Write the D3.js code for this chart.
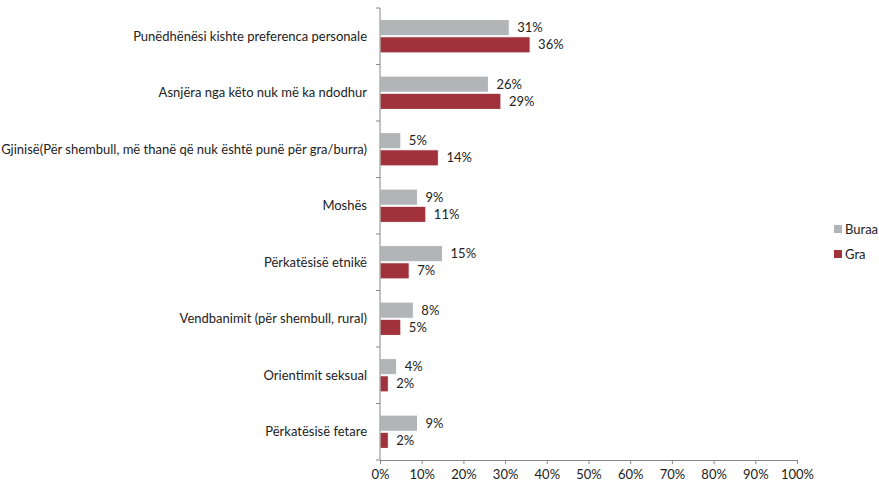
<!DOCTYPE html>
<html>
<head>
<meta charset="utf-8">
<script src="https://cdn.jsdelivr.net/npm/d3@7"></script>
<style>
  body { margin: 0; background: #fff; }
  text { font-family: Lato, "Open Sans", sans-serif; fill: #222; }
</style>
</head>
<body>
<svg id="chart" width="879" height="486"></svg>
<script>
// Reasons for unequal treatment, by gender
const categories = [
  "Punëdhënësi kishte preferenca personale",
  "Asnjëra nga këto nuk më ka ndodhur",
  "Gjinisë(Për shembull, më thanë që nuk është punë për gra/burra)",
  "Moshës",
  "Përkatësisë etnikë",
  "Vendbanimit (për shembull, rural)",
  "Orientimit seksual",
  "Përkatësisë fetare"
];
const seriesNames = ["Buraa", "Gra"];
const buraa = [31, 26, 5, 9, 15, 8, 4, 9];
const gra = [36, 29, 14, 11, 7, 5, 2, 2];
const tickValues = [0, 10, 20, 30, 40, 50, 60, 70, 80, 90, 100];
const colors = ["#b1b5b7", "#a1323b"];
const fontSize = 13;

const svg = d3.select("#chart");
const margin = { left: 380, right: 82, top: 8, bottom: 26 };
const width = 879 - margin.left - margin.right;
const height = 486 - margin.top - margin.bottom;
const g = svg.append("g").attr("transform", `translate(${margin.left},${margin.top})`);

const x = d3.scaleLinear().domain([0, 100]).range([0, width]);
const y = d3.scaleBand().domain(categories).range([0, height]).paddingInner(0.41).paddingOuter(0.205);
const y1 = d3.scaleBand().domain(seriesNames).range([0, y.bandwidth()]).paddingInner(0.06);

const rows = categories.map((c, i) => ({ cat: c, vals: [buraa[i], gra[i]] }));

const groups = g.selectAll("g.row").data(rows).join("g")
  .attr("transform", d => `translate(0,${y(d.cat)})`);

groups.selectAll("rect").data(d => d.vals.map((v, j) => ({ v, s: seriesNames[j], j })))
  .join("rect")
  .attr("x", 0)
  .attr("y", d => y1(d.s))
  .attr("width", d => x(d.v))
  .attr("height", y1.bandwidth())
  .attr("fill", d => colors[d.j])
  .attr("stroke", "#fff")
  .attr("stroke-width", 1);

groups.selectAll("text.val").data(d => d.vals.map((v, j) => ({ v, s: seriesNames[j] })))
  .join("text")
  .attr("class", "val")
  .attr("x", d => x(d.v) + 8)
  .attr("y", d => y1(d.s) + y1.bandwidth() / 2)
  .attr("dy", "0.35em")
  .attr("font-size", fontSize)
  .text(d => d.v + "%");

// Category labels
g.selectAll("text.cat").data(categories).join("text")
  .attr("class", "cat")
  .attr("x", -13)
  .attr("y", d => y(d) + y.bandwidth() / 2)
  .attr("dy", "0.35em")
  .attr("text-anchor", "end")
  .attr("font-size", fontSize)
  .text(d => d);

// Left axis with ticks at band boundaries
const axisColor = "#888";
g.append("line").attr("x1", 0).attr("x2", 0).attr("y1", 0).attr("y2", height)
  .attr("stroke", axisColor);
const bounds = d3.range(categories.length + 1).map(i => i * height / categories.length);
g.selectAll("line.ytick").data(bounds).join("line")
  .attr("class", "ytick")
  .attr("x1", -4).attr("x2", 0)
  .attr("y1", d => d).attr("y2", d => d)
  .attr("stroke", axisColor);

// Bottom axis
const xAxis = g.append("g").attr("transform", `translate(0,${height})`)
  .call(d3.axisBottom(x).tickValues(tickValues).tickFormat(d => d + "%").tickSize(4).tickPadding(6));
xAxis.select(".domain").attr("stroke", axisColor);
xAxis.selectAll(".tick line").attr("stroke", axisColor);
xAxis.selectAll("text").attr("font-size", fontSize).attr("fill", "#222")
  .attr("font-family", "Lato, 'Open Sans', sans-serif");

// Legend
const legend = svg.append("g").attr("transform", "translate(834,225)");
seriesNames.forEach((s, i) => {
  const row = legend.append("g").attr("transform", `translate(0,${i * 25})`);
  row.append("rect").attr("width", 8).attr("height", 8).attr("fill", colors[i]);
  row.append("text").attr("x", 11).attr("y", 4).attr("dy", "0.35em").attr("font-size", fontSize).text(s);
});
</script>
</body>
</html>
